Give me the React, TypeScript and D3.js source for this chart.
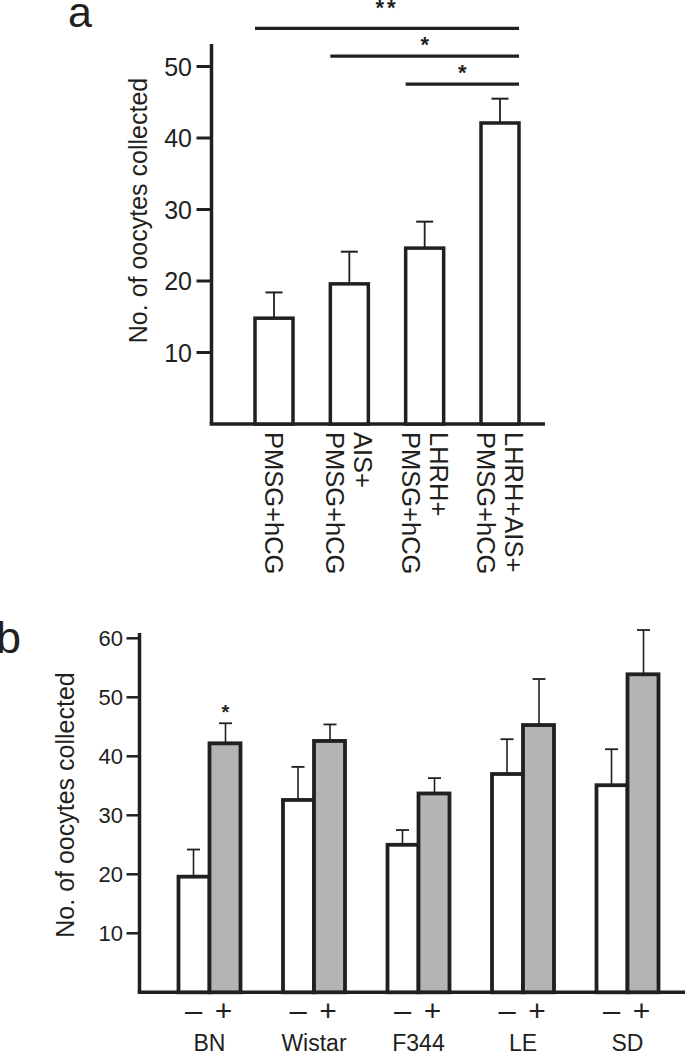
import React from "react";
import * as d3 from "d3";

// ---------- Panel a data ----------
const treatmentsA = ["g1", "g2", "g3", "g4"];
const labelLinesA: string[][] = [
  ["PMSG+hCG"],
  ["AIS+", "PMSG+hCG"],
  ["LHRH+", "PMSG+hCG"],
  ["LHRH+AIS+", "PMSG+hCG"],
];
const meansA = [14.8, 19.6, 24.6, 42.1];
const errTopsA = [18.4, 24.1, 28.3, 45.5];
const ticksA = [10, 20, 30, 40, 50];
const bracketsA = [
  { from: 0, to: 3, label: "**" },
  { from: 1, to: 3, label: "*" },
  { from: 2, to: 3, label: "*" },
];

// ---------- Panel b data ----------
const strainsB = ["BN", "Wistar", "F344", "LE", "SD"];
const conditionsB = ["–", "+"];
const meansMinusB = [19.6, 32.6, 25.0, 37.0, 35.1];
const errMinusB = [24.2, 38.2, 27.5, 42.9, 41.2];
const meansPlusB = [42.2, 42.6, 33.7, 45.3, 53.9];
const errPlusB = [45.6, 45.4, 36.3, 53.1, 61.4];
const starsB = ["*", "", "", "", ""];
const ticksB = [10, 20, 30, 40, 50, 60];

const INK = "#231f20";
const GREY = "#b3b4b6";
const FONT = "'Liberation Sans', Arial, Helvetica, sans-serif";

export default function App() {
  // Panel a scales
  const xA = d3.scalePoint<string>().domain(treatmentsA).range([274, 500]);
  const yA = d3.scaleLinear().domain([0, 50]).range([424, 66.5]);
  const bwA = 38;
  const axisXA = 211.5;

  // Panel b scales
  const xB = d3.scalePoint<string>().domain(strainsB).range([209.5, 627.5]);
  const yB = d3.scaleLinear().domain([0, 60]).range([992.3, 638.3]);
  const bwB = 31;
  const axisXB = 139.5;

  const lineSpacing = 28;
  const capH = 18;

  return (
    <svg
      width={685}
      height={1053}
      style={{ position: "absolute", left: 0, top: 0, overflow: "hidden", background: "#fff" }}
      fontFamily={FONT}
    >
      <rect x={0} y={0} width={685} height={1053} fill="#fff" />

      {/* ================= Panel a ================= */}
      <text x={68} y={27} fontSize={43} fill={INK}>a</text>

      {/* y axis */}
      <line x1={axisXA} x2={axisXA} y1={44} y2={yA(0)} stroke={INK} strokeWidth={3.5} />
      <line x1={axisXA - 1.75} x2={545} y1={yA(0)} y2={yA(0)} stroke={INK} strokeWidth={3.5} />
      {ticksA.map((t) => (
        <g key={t}>
          <line x1={196.5} x2={axisXA} y1={yA(t)} y2={yA(t)} stroke={INK} strokeWidth={3} />
          <text x={192} y={yA(t)} dy="0.36em" textAnchor="end" fontSize={25} fill={INK}>
            {t}
          </text>
        </g>
      ))}
      <text
        transform={`translate(147,210.5) rotate(-90)`}
        textAnchor="middle"
        fontSize={25}
        fill={INK}
      >
        No. of oocytes collected
      </text>

      {/* bars */}
      {treatmentsA.map((g, i) => {
        const cx = xA(g)!;
        return (
          <g key={g}>
            <line x1={cx} x2={cx} y1={yA(meansA[i])} y2={yA(errTopsA[i])} stroke={INK} strokeWidth={1.8} />
            <line x1={cx - 8.5} x2={cx + 8.5} y1={yA(errTopsA[i])} y2={yA(errTopsA[i])} stroke={INK} strokeWidth={2} />
            <rect
              x={cx - bwA / 2}
              y={yA(meansA[i])}
              width={bwA}
              height={yA(0) - yA(meansA[i])}
              fill="#fff"
              stroke={INK}
              strokeWidth={3.5}
            />
          </g>
        );
      })}

      {/* x labels, rotated */}
      {treatmentsA.map((g, i) => {
        const cx = xA(g)!;
        const lines = labelLinesA[i];
        const base1 = cx + (lineSpacing * (lines.length - 1) - capH) / 2;
        return (
          <text
            key={g}
            transform={`translate(${base1},432) rotate(90)`}
            fontSize={25.5}
            fill={INK}
          >
            {lines.map((l, j) => (
              <tspan key={j} x={0} y={j * lineSpacing}>
                {l}
              </tspan>
            ))}
          </text>
        );
      })}

      {/* significance brackets */}
      {bracketsA.map((b, k) => {
        const x1 = xA(treatmentsA[b.from])! - bwA / 2;
        const x2 = xA(treatmentsA[b.to])! + bwA / 2;
        const y = 28.3 + k * 27.9;
        const off = b.label.length > 1 ? 10 : 1;
        return (
          <g key={k}>
            <line x1={x1} x2={x2} y1={y} y2={y} stroke={INK} strokeWidth={3.3} />
            <text x={(x1 + x2) / 2} y={y - 3 - off} textAnchor="middle" fontSize={22} fontWeight="bold" fill={INK} letterSpacing={b.label.length > 1 ? 3 : 0}>
              {b.label}
            </text>
          </g>
        );
      })}

      {/* ================= Panel b ================= */}
      <text x={-4} y={653} fontSize={45} fill={INK}>b</text>

      <line x1={axisXB} x2={axisXB} y1={633} y2={yB(0)} stroke={INK} strokeWidth={3.5} />
      <line x1={axisXB - 1.75} x2={690} y1={yB(0)} y2={yB(0)} stroke={INK} strokeWidth={3.5} />
      {ticksB.map((t) => (
        <g key={t}>
          <line x1={126.5} x2={axisXB} y1={yB(t)} y2={yB(t)} stroke={INK} strokeWidth={2.5} />
          <text x={123} y={yB(t)} dy="0.36em" textAnchor="end" fontSize={22} fill={INK}>
            {t}
          </text>
        </g>
      ))}
      <text
        transform={`translate(74,805) rotate(-90)`}
        textAnchor="middle"
        fontSize={25}
        fill={INK}
      >
        No. of oocytes collected
      </text>

      {strainsB.map((s, i) => {
        const cx = xB(s)!;
        const wx = cx - bwB / 2 - 0.5;
        const gx = cx + bwB / 2 + 0.5;
        return (
          <g key={s}>
            {/* error bars */}
            <line x1={wx} x2={wx} y1={yB(meansMinusB[i])} y2={yB(errMinusB[i])} stroke={INK} strokeWidth={1.6} />
            <line x1={wx - 6.5} x2={wx + 6.5} y1={yB(errMinusB[i])} y2={yB(errMinusB[i])} stroke={INK} strokeWidth={1.8} />
            <line x1={gx} x2={gx} y1={yB(meansPlusB[i])} y2={yB(errPlusB[i])} stroke={INK} strokeWidth={1.6} />
            <line x1={gx - 6.5} x2={gx + 6.5} y1={yB(errPlusB[i])} y2={yB(errPlusB[i])} stroke={INK} strokeWidth={1.8} />
            {/* bars */}
            <rect
              x={cx - bwB}
              y={yB(meansMinusB[i])}
              width={bwB}
              height={yB(0) - yB(meansMinusB[i])}
              fill="#fff"
              stroke={INK}
              strokeWidth={3.8}
            />
            <rect
              x={cx}
              y={yB(meansPlusB[i])}
              width={bwB}
              height={yB(0) - yB(meansPlusB[i])}
              fill={GREY}
              stroke={INK}
              strokeWidth={3.8}
            />
            {starsB[i] && (
              <text x={gx} y={yB(errPlusB[i]) - 4} textAnchor="middle" fontSize={20} fontWeight="bold" fill={INK}>
                {starsB[i]}
              </text>
            )}
            {/* condition labels */}
            <text x={cx - 16} y={1011} dy="0.32em" textAnchor="middle" fontSize={31} fill={INK}>
              {conditionsB[0]}
            </text>
            <text x={cx + 14} y={1010} dy="0.36em" textAnchor="middle" fontSize={30} fill={INK}>
              {conditionsB[1]}
            </text>
            <text x={cx} y={1051} textAnchor="middle" fontSize={23} fill={INK}>
              {s}
            </text>
          </g>
        );
      })}
    </svg>
  );
}
